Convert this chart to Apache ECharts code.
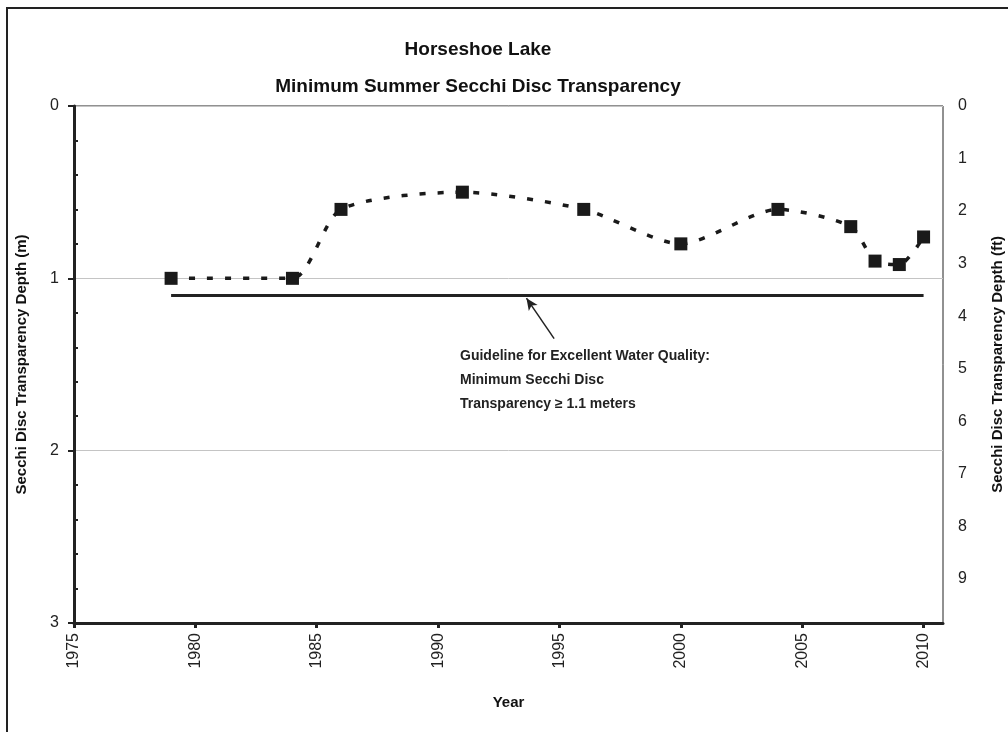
<!DOCTYPE html>
<html>
<head>
<meta charset="utf-8">
<title>Horseshoe Lake Secchi</title>
<script src="https://cdn.jsdelivr.net/npm/echarts@6/dist/echarts.min.js"></script>
<style>
    html,body{margin:0;padding:0;background:#fff;}
    #main{width:1008px;height:732px;}
</style>
</head>
<body>
<div id="main"></div>
<script>
// data
var years = [1979, 1984, 1986, 1991, 1996, 2000, 2004, 2007, 2008, 2009, 2010];
var secchiM = [1.0, 1.0, 0.6, 0.5, 0.6, 0.8, 0.6, 0.7, 0.9, 0.92, 0.76];
var guideYears = [1979, 2010];
var guideValue = 1.1;
var arrowFrom = [1994.78, 1.35];
var arrowTo = [1993.64, 1.115];
var xTicks = [1975, 1980, 1985, 1990, 1995, 2000, 2005, 2010];
var noteLines = ['Guideline for Excellent Water Quality:', 'Minimum Secchi Disc', 'Transparency \u2265 1.1 meters'];

var FONT = '"Liberation Sans", Arial, sans-serif';
var M_TO_FT = 1 / 0.3048;

var pts = [];
for (var i = 0; i < years.length; i++) {
    pts.push([years[i], secchiM[i]]);
}
var guidePts = [[guideYears[0], guideValue], [guideYears[1], guideValue]];

var myChart = echarts.init(document.getElementById('main'));
var option = {
    backgroundColor: '#fff',
    animation: false,
    title: {
        text: 'Horseshoe Lake\nMinimum Summer Secchi Disc Transparency',
        left: 473,
        top: 26,
        textAlign: 'center',
        textStyle: {fontFamily: FONT, fontSize: 19, fontWeight: 'bold', color: '#111', lineHeight: 37}
    },
    grid: {
        left: 74, top: 106, right: 65, bottom: 109,
        outerBoundsMode: 'none',
        containLabel: false,
        show: true, borderColor: '#222', borderWidth: 1
    },
    xAxis: {
        type: 'value',
        position: 'bottom',
        min: 1975,
        max: 2010.8,
        interval: 5,
        name: 'Year',
        nameLocation: 'middle',
        nameGap: 72,
        nameTextStyle: {fontFamily: FONT, fontSize: 15, fontWeight: 'bold', color: '#111'},
        axisLine: {show: true, onZero: false, lineStyle: {color: '#222', width: 3}},
        axisTick: {show: true, length: 5, lineStyle: {color: '#222', width: 3}},
        axisLabel: {
            rotate: 90, margin: 10, showMaxLabel: false,
            fontFamily: FONT, fontSize: 16, color: '#222',
            formatter: function (v) {
                return xTicks.indexOf(v) >= 0 ? String(v) : '';
            }
        },
        splitLine: {show: false}
    },
    yAxis: [
        {
            type: 'value',
            inverse: true,
            min: 0, max: 3, interval: 1,
            position: 'left',
            name: 'Secchi Disc Transparency Depth (m)',
            nameLocation: 'middle',
            nameGap: 45,
            nameRotate: 90,
            nameTextStyle: {fontFamily: FONT, fontSize: 15, fontWeight: 'bold', color: '#111'},
            axisLine: {show: true, onZero: false, lineStyle: {color: '#222', width: 3}},
            axisTick: {show: true, length: 6, lineStyle: {color: '#222', width: 2}},
            axisLabel: {margin: 15, fontFamily: FONT, fontSize: 16, color: '#222'},
            splitLine: {show: true, lineStyle: {color: '#c4c4c4', width: 1}}
        },
        {
            type: 'value',
            inverse: true,
            min: 0, max: 3 * M_TO_FT, interval: 1,
            position: 'right',
            name: 'Secchi Disc Transparency Depth (ft)',
            nameLocation: 'middle',
            nameGap: 47,
            nameRotate: 90,
            nameTextStyle: {fontFamily: FONT, fontSize: 15, fontWeight: 'bold', color: '#111'},
            axisLine: {show: false},
            axisTick: {show: false},
            axisLabel: {margin: 15, showMaxLabel: false, fontFamily: FONT, fontSize: 16, color: '#222'},
            splitLine: {show: false}
        },
        {
            // only for the small inside ticks on the left axis
            type: 'value',
            inverse: true,
            min: 0, max: 3, interval: 1,
            position: 'left',
            axisLine: {show: false, onZero: false},
            axisTick: {show: false, inside: true},
            minorTick: {show: true, splitNumber: 5, length: 4, lineStyle: {color: '#222', width: 2}},
            axisLabel: {show: false},
            splitLine: {show: false}
        }
    ],
    graphic: [
        {
            type: 'rect',
            shape: {x: 7, y: 8, width: 1020, height: 740},
            style: {fill: 'none', stroke: '#222', lineWidth: 2},
            silent: true
        },
        {
            type: 'text',
            left: 460,
            top: 344,
            style: {
                text: noteLines.join('\n'),
                font: 'bold 14px ' + FONT,
                fill: '#222',
                lineHeight: 24
            }
        }
    ],
    series: [
        {
            name: 'Secchi',
            type: 'line',
            yAxisIndex: 0,
            smooth: 0.25,
            symbol: 'rect',
            symbolSize: 13,
            itemStyle: {color: '#1a1a1a'},
            lineStyle: {color: '#1a1a1a', width: 3.5, type: [6, 12]},
            data: pts,
            z: 5
        },
        {
            name: 'Guideline',
            type: 'line',
            yAxisIndex: 0,
            symbol: 'none',
            lineStyle: {color: '#222', width: 3},
            data: guidePts,
            markLine: {
                silent: true,
                symbol: ['none', 'arrow'],
                symbolSize: [8, 12],
                label: {show: false},
                lineStyle: {color: '#222', width: 1.5, type: 'solid'},
                data: [[{coord: arrowFrom}, {coord: arrowTo}]]
            }
        }
    ]
};
myChart.setOption(option);
</script>
</body>
</html>
